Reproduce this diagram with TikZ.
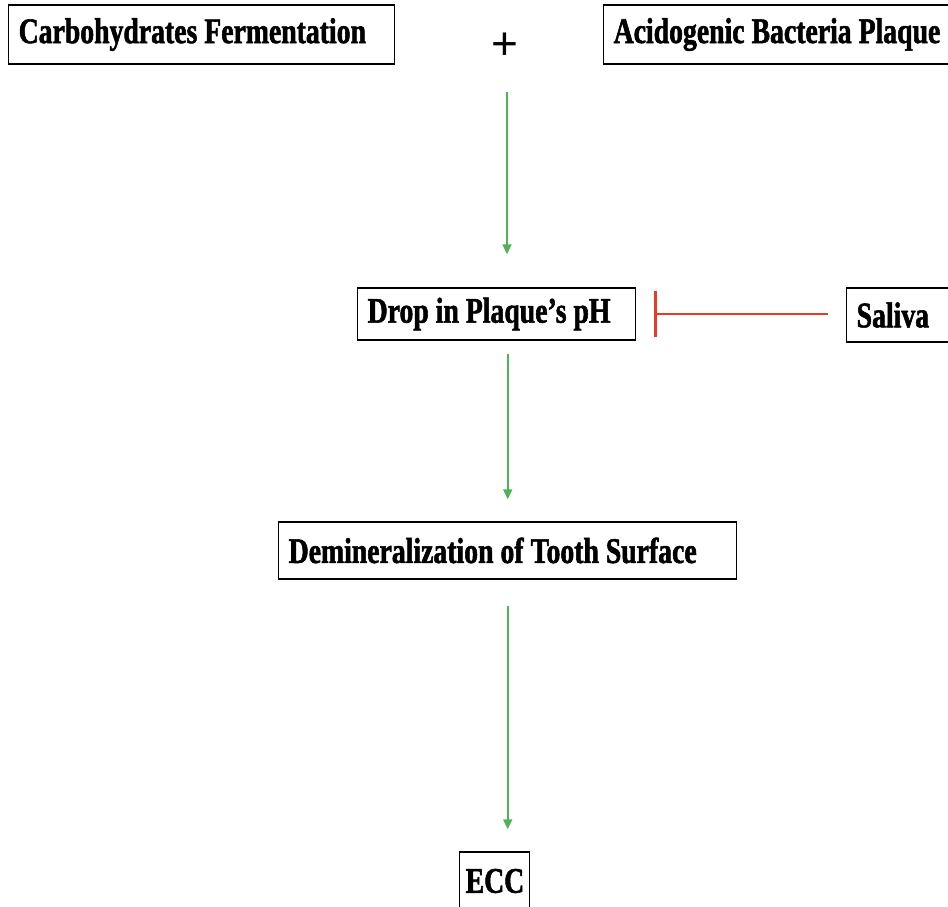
\documentclass[tikz,border=0pt]{standalone}
\usepackage{fontspec}
\setmainfont{Liberation Serif}[FakeStretch=0.77, BoldFeatures={FakeBold=1.5}]
\newfontfamily\plusfont{Liberation Sans}
\usetikzlibrary{arrows.meta}
\definecolor{arrgreen}{RGB}{82,176,88}
\definecolor{inhred}{RGB}{232,58,40}
\newcommand\boxtxt[1]{\mbox{\spaceskip=7pt\relax #1}}
\tikzset{
  box/.style={draw, line width=1.4pt, inner xsep=10pt, inner ysep=0pt, align=left,
    anchor=west, font=\bfseries\fontsize{36}{40}\selectfont},
  garrow/.style={draw=arrgreen, line width=1.8pt, -{Triangle[length=10pt,width=9pt]}},
  inhibit/.style={draw=inhred, line width=2.6pt, -{Bar[width=46pt,line width=2.6pt]}}
}
\begin{document}
\begin{tikzpicture}[x=1pt,y=-1pt]
\useasboundingbox (0,0) rectangle (948,907);
\node[box, text width=366pt, minimum height=59pt] (carb) at (8,34.5) {\boxtxt{Carbohydrates Fermentation}};
\node[box, inner xsep=10pt, text width=332pt, minimum height=59pt] (acid) at (603,34.5) {\boxtxt{Acidogenic Bacteria Plaque}};
\node[inner sep=0pt, font=\plusfont\fontsize{46}{46}\selectfont] (plus) at (505,46) {+};
\node[box, text width=258pt, minimum height=52pt] (drop) at (357,314) {\boxtxt{Drop in Plaque’s pH}};
\node[box, text width=84pt, minimum height=54pt] (saliva) at (846,315) {\boxtxt{Saliva}};
\node[box, text width=438pt, minimum height=57pt] (demin) at (278,550.5) {\boxtxt{Demineralization of Tooth Surface}};
\node[box, inner xsep=6pt, text width=58pt, minimum height=58pt] (ecc) at (459,881) {\boxtxt{ECC}};
\coordinate (top) at (507,92);
\draw[garrow, shorten >=33pt] (top) -- (top |- drop.north);
\draw[garrow, shorten <=13pt, shorten >=22pt] (demin.north |- drop.south) -- (demin.north);
\draw[garrow, shorten <=26pt, shorten >=22pt] (demin.south) -- (demin.south |- ecc.north);
\draw[inhibit, shorten <=18pt, shorten >=18pt] (saliva.west |- drop.east) -- (drop.east);
\end{tikzpicture}
\end{document}
